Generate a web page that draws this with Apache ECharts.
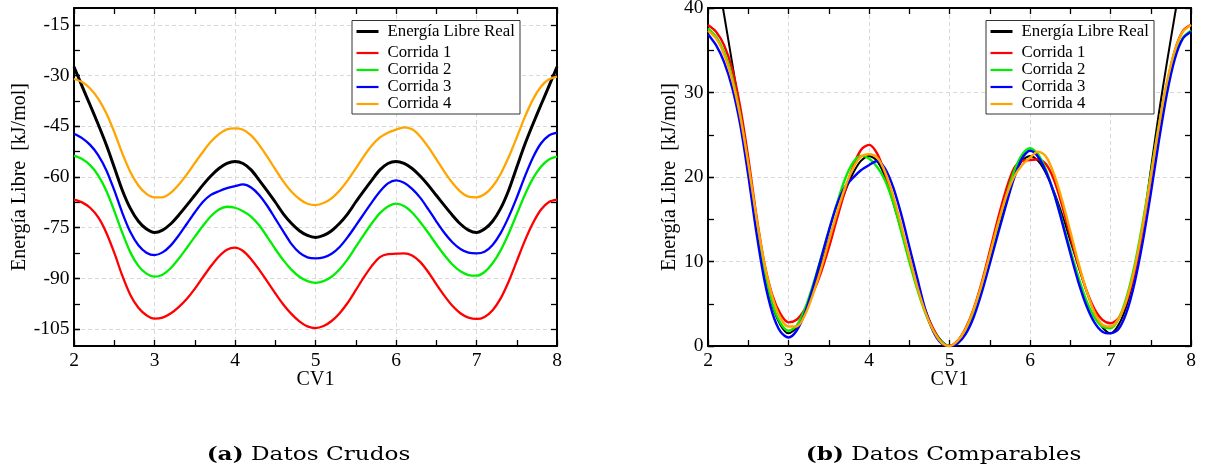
<!DOCTYPE html>
<html><head><meta charset="utf-8">
<script src="https://cdn.jsdelivr.net/npm/echarts@6/dist/echarts.min.js"></script>
<style>html,body{margin:0;padding:0;background:#fff}#c{width:1205px;height:474px}</style>
</head><body><div id="c"></div>
<script>
// ---------- DATA ----------
const cv1 = [2.0,2.1,2.2,2.3,2.4,2.5,2.6,2.7,2.8,2.9,3.0,3.1,3.2,3.3,3.4,3.5,3.6,3.7,3.8,3.9,4.0,4.1,4.2,4.3,4.4,4.5,4.6,4.7,4.8,4.9,5.0,5.1,5.2,5.3,5.4,5.5,5.6,5.7,5.8,5.9,6.0,6.1,6.2,6.3,6.4,6.5,6.6,6.7,6.8,6.9,7.0,7.1,7.2,7.3,7.4,7.5,7.6,7.7,7.8,7.9,8.0];
const seriesNames = ['Energía Libre Real','Corrida 1','Corrida 2','Corrida 3','Corrida 4'];

// (a) Datos Crudos
const crudoReal = [-27.4,-33.1,-38.7,-44.4,-50.4,-57.1,-63.9,-69.3,-73.1,-75.4,-76.4,-75.7,-73.9,-71.3,-68.4,-65.4,-62.4,-59.7,-57.5,-56.0,-55.4,-56.0,-57.9,-60.9,-64.1,-67.4,-70.9,-73.7,-75.9,-77.3,-77.9,-77.3,-75.9,-73.7,-70.9,-67.4,-64.1,-60.9,-57.9,-56.0,-55.4,-56.0,-57.5,-59.7,-62.4,-65.4,-68.4,-71.3,-73.9,-75.7,-76.4,-75.4,-73.1,-69.3,-63.9,-57.1,-50.4,-44.4,-38.7,-33.1,-27.4];
const crudoC1 = [-66.7,-67.5,-69.1,-71.9,-76.4,-82.4,-89.2,-94.9,-98.7,-100.9,-101.9,-101.6,-100.4,-98.5,-96.1,-93.1,-89.7,-86.4,-83.5,-81.5,-80.9,-81.9,-84.3,-87.4,-90.9,-94.4,-97.7,-100.5,-102.7,-104.2,-104.7,-104.1,-102.6,-100.3,-97.2,-93.5,-89.7,-86.3,-83.7,-82.8,-82.7,-82.6,-83.2,-85.1,-88.1,-91.7,-95.1,-98.1,-100.3,-101.6,-102.0,-101.4,-99.4,-95.9,-90.9,-84.9,-78.9,-73.7,-69.7,-67.4,-66.7];
const crudoC2 = [-53.7,-54.7,-56.5,-59.5,-64.0,-70.0,-76.5,-82.3,-86.3,-88.6,-89.5,-88.9,-87.0,-84.2,-81.0,-77.7,-74.5,-71.6,-69.6,-68.8,-69.1,-70.1,-71.7,-74.3,-77.7,-81.3,-84.6,-87.4,-89.5,-90.8,-91.3,-90.8,-89.5,-87.3,-84.3,-80.7,-77.1,-73.7,-70.7,-68.7,-67.9,-68.6,-70.5,-73.3,-76.5,-79.9,-83.1,-85.9,-87.9,-89.0,-89.2,-88.1,-85.5,-81.7,-76.7,-71.0,-65.3,-60.5,-57.0,-54.8,-54.0];
const crudoC3 = [-47.2,-48.5,-50.5,-53.5,-57.9,-63.9,-70.6,-76.3,-80.2,-82.4,-83.1,-82.3,-80.3,-77.3,-73.9,-70.5,-67.4,-65.3,-64.2,-63.3,-62.7,-62.2,-63.1,-65.3,-68.5,-72.3,-76.1,-79.8,-82.4,-83.8,-84.1,-83.8,-82.7,-80.7,-77.8,-74.4,-70.9,-67.5,-64.3,-61.9,-61.0,-61.7,-63.5,-66.1,-69.5,-73.1,-76.5,-79.3,-81.3,-82.4,-82.6,-82.1,-80.1,-76.6,-71.8,-66.1,-59.9,-54.3,-50.1,-47.7,-46.9];
const crudoC4 = [-31.0,-31.9,-33.8,-36.8,-41.1,-46.7,-53.0,-58.5,-62.5,-65.0,-66.0,-66.0,-64.7,-62.3,-59.3,-55.9,-52.6,-49.6,-47.3,-45.9,-45.6,-46.0,-47.7,-50.5,-54.0,-57.7,-61.3,-64.3,-66.5,-67.9,-68.3,-67.7,-66.3,-64.0,-61.0,-57.5,-53.9,-50.7,-48.3,-46.9,-46.0,-45.3,-45.9,-48.0,-51.1,-54.7,-58.4,-61.7,-64.3,-65.8,-66.0,-65.1,-62.8,-59.1,-54.1,-48.3,-42.3,-37.1,-33.3,-31.1,-30.3];

// (b) Datos Comparables
const compReal = [50.5,44.8,39.2,33.5,27.5,20.8,14.0,8.6,4.8,2.5,1.5,2.2,4.0,6.6,9.5,12.5,15.5,18.2,20.4,21.9,22.5,21.9,20.0,17.0,13.8,10.5,7.0,4.2,2.0,0.6,0.0,0.6,2.0,4.2,7.0,10.5,13.8,17.0,20.0,21.9,22.5,21.9,20.4,18.2,15.5,12.5,9.5,6.6,4.0,2.2,1.5,2.5,4.8,8.6,14.0,20.8,27.5,33.5,39.2,44.8,50.5];
const compC1 = [38.0,37.2,35.6,32.8,28.3,22.3,15.5,9.8,6.0,3.8,2.8,3.1,4.3,6.2,8.6,11.6,15.0,18.3,21.2,23.2,23.8,22.8,20.4,17.3,13.8,10.3,7.0,4.2,2.0,0.5,0.0,0.6,2.1,4.4,7.5,11.2,15.0,18.4,21.0,21.9,22.0,22.1,21.5,19.6,16.6,13.0,9.6,6.6,4.4,3.1,2.7,3.3,5.3,8.8,13.8,19.8,25.8,31.0,35.0,37.3,38.0];
const compC2 = [37.6,36.6,34.8,31.8,27.3,21.3,14.8,9.0,5.0,2.7,1.8,2.4,4.3,7.1,10.3,13.6,16.8,19.7,21.7,22.5,22.2,21.2,19.6,17.0,13.6,10.0,6.7,3.9,1.8,0.5,0.0,0.5,1.8,4.0,7.0,10.6,14.2,17.6,20.6,22.6,23.4,22.7,20.8,18.0,14.8,11.4,8.2,5.4,3.4,2.3,2.1,3.2,5.8,9.6,14.6,20.3,26.0,30.8,34.3,36.5,37.3];
const compC3 = [36.9,35.6,33.6,30.6,26.2,20.2,13.5,7.8,3.9,1.7,1.0,1.8,3.8,6.8,10.2,13.6,16.7,18.8,19.9,20.8,21.4,21.9,21.0,18.8,15.6,11.8,8.0,4.3,1.7,0.3,0.0,0.3,1.4,3.4,6.3,9.7,13.2,16.6,19.8,22.2,23.1,22.4,20.6,18.0,14.6,11.0,7.6,4.8,2.8,1.7,1.5,2.0,4.0,7.5,12.3,18.0,24.2,29.8,34.0,36.4,37.2];
const compC4 = [37.3,36.4,34.5,31.5,27.2,21.6,15.3,9.8,5.8,3.3,2.3,2.3,3.6,6.0,9.0,12.4,15.7,18.7,21.0,22.4,22.7,22.3,20.6,17.8,14.3,10.6,7.0,4.0,1.8,0.4,0.0,0.6,2.0,4.3,7.3,10.8,14.4,17.6,20.0,21.4,22.3,23.0,22.4,20.3,17.2,13.6,9.9,6.6,4.0,2.5,2.3,3.2,5.5,9.2,14.2,20.0,26.0,31.2,35.0,37.2,38.0];

// tick labels
const xTickLabels = [2,3,4,5,6,7,8];
const xMinorTicks = [2.5,3.5,4.5,5.5,6.5,7.5];
const yLabelsCrudos = [-105,-90,-75,-60,-45,-30,-15];
const yTicksCrudos = [-105,-97.5,-90,-82.5,-75,-67.5,-60,-52.5,-45,-37.5,-30,-22.5,-15];
const yLabelsComp = [0,10,20,30,40];
const yTicksComp = [0,5,10,15,20,25,30,35,40];
const captionTags = ['(a)','(b)'];
const captionTexts = ['Datos Crudos','Datos Comparables'];

// ---------- STYLE ----------
const colors = ['#000000','#ff0000','#00ee00','#0000ff','#ffa500'];
const SERIF = 'Liberation Serif';
const CAPFONT = 'DejaVu Serif';
const gridsPx = [{left:74, top:8, width:483, height:338},{left:708, top:8, width:483, height:338}];
const axisLine = {show:true, onZero:false, lineStyle:{color:'#000', width:2}};
const tickStyle = {color:'#000', width:1.3};
const splitStyle = {show:true, lineStyle:{color:'#d9d9d9', width:1, type:[4,3]}};
const labelStyle = {color:'#000', fontFamily:SERIF, fontSize:19.5};
const nameStyle = {color:'#000', fontFamily:SERIF, fontSize:20};

function xAxes(g) {
  const base = {gridIndex:g, type:'value', min:xTickLabels[0], max:xTickLabels[xTickLabels.length-1]};
  return [
    Object.assign({}, base, {position:'bottom', axisLine,
      axisTick:{show:true, inside:true, length:6, customValues:xTickLabels, lineStyle:tickStyle},
      minorTick:{show:false},
      splitLine:splitStyle,
      axisLabel:Object.assign({show:true, margin:5, customValues:xTickLabels}, labelStyle),
      name:'CV1', nameLocation:'middle', nameGap:24, nameMoveOverlap:false, nameTextStyle:nameStyle}),
    Object.assign({}, base, {position:'top', axisLine,
      axisTick:{show:true, inside:true, length:6, customValues:xTickLabels.concat(xMinorTicks), lineStyle:tickStyle},
      splitLine:{show:false}, axisLabel:{show:false}}),
    Object.assign({}, base, {position:'bottom', offset:0, axisLine:{show:false},
      axisTick:{show:true, inside:true, length:6, customValues:xMinorTicks, lineStyle:tickStyle},
      splitLine:{show:false}, axisLabel:{show:false}})
  ];
}
function yAxes(g, mn, mx, labels, ticks, nameGap) {
  const base = {gridIndex:g, type:'value', min:mn, max:mx};
  return [
    Object.assign({}, base, {position:'left', axisLine,
      axisTick:{show:true, inside:true, length:6, customValues:labels, lineStyle:tickStyle},
      splitLine:splitStyle,
      axisLabel:Object.assign({show:true, margin:4.5, customValues:labels}, labelStyle),
      name:'Energía Libre  [kJ/mol]', nameLocation:'middle', nameGap:nameGap, nameMoveOverlap:false, nameTextStyle:nameStyle}),
    Object.assign({}, base, {position:'right', axisLine,
      axisTick:{show:true, inside:true, length:6, customValues:ticks, lineStyle:tickStyle},
      splitLine:{show:false}, axisLabel:{show:false}}),
    Object.assign({}, base, {position:'left', offset:0, axisLine:{show:false},
      axisTick:{show:true, inside:true, length:6, customValues:ticks, lineStyle:tickStyle},
      splitLine:{show:false}, axisLabel:{show:false}})
  ];
}

const crudos = [crudoReal, crudoC1, crudoC2, crudoC3, crudoC4];
const comps = [compReal, compC1, compC2, compC3, compC4];
const series = [];
crudos.forEach((arr, i) => series.push({
  type:'line', name:seriesNames[i], xAxisIndex:0, yAxisIndex:0, showSymbol:false, symbol:'none', smooth:0.3,
  lineStyle:{color:colors[i], width: i===0 ? 3 : 2.3}, itemStyle:{color:colors[i]}, z:2,
  data: cv1.map((x,k)=>[x, arr[k]])
}));
comps.forEach((arr, i) => series.push({
  type:'line', name:seriesNames[i], xAxisIndex:3, yAxisIndex:3, showSymbol:false, symbol:'none', smooth:0.3,
  lineStyle:{color:colors[i], width: i===0 ? 2 : 2.4}, itemStyle:{color:colors[i]}, z:2, clip:true,
  data: cv1.map((x,k)=>[x, arr[k]])
}));

function legends(left) {
  const common = {orient:'vertical', left:left, padding:0, itemWidth:22, itemGap:0, selectedMode:false, z:20, icon:'rect',
    textStyle:{color:'#000', fontFamily:SERIF, fontSize:16.8, lineHeight:17, padding:[0,0,0,4]}};
  return [
    Object.assign({}, common, {top:23, itemHeight:3, data:[seriesNames[0]]}),
    Object.assign({}, common, {top:44.5, itemHeight:2.2, data:seriesNames.slice(1)})
  ];
}

function caption(cx, i) {
  return {type:'text', x:cx, y:455, scaleX:1.22, scaleY:1, z:10,
    style:{x:0, y:0, text:'{b|'+captionTags[i]+'} '+captionTexts[i], align:'center', verticalAlign:'middle',
      fill:'#000', font:'19px "'+CAPFONT+'"',
      rich:{b:{fontFamily:CAPFONT, fontSize:19, fontWeight:'bold', fill:'#000', color:'#000'}}}};
}

const option = {
  animation:false,
  backgroundColor:'#fff',
  grid: gridsPx.map(g => Object.assign({outerBoundsMode:'none', containLabel:false}, g)),
  xAxis: xAxes(0).concat(xAxes(1)),
  yAxis: yAxes(0, -110, -10, yLabelsCrudos, yTicksCrudos, 44.5).concat(yAxes(1, 0, 40, yLabelsComp, yTicksComp, 28)),
  legend: legends(356.5).concat(legends(990.5)),
  graphic: [
    {type:'rect', z:10, shape:{x:352, y:20.5, width:168, height:93.5}, style:{fill:'#fff', stroke:'#333', lineWidth:1}},
    {type:'rect', z:10, shape:{x:986, y:20.5, width:168, height:93.5}, style:{fill:'#fff', stroke:'#333', lineWidth:1}},
    caption(308.5, 0),
    caption(943.5, 1)
  ],
  series: series
};
const chart = echarts.init(document.getElementById('c'), null, {renderer:'canvas'});
chart.setOption(option);
</script></body></html>
